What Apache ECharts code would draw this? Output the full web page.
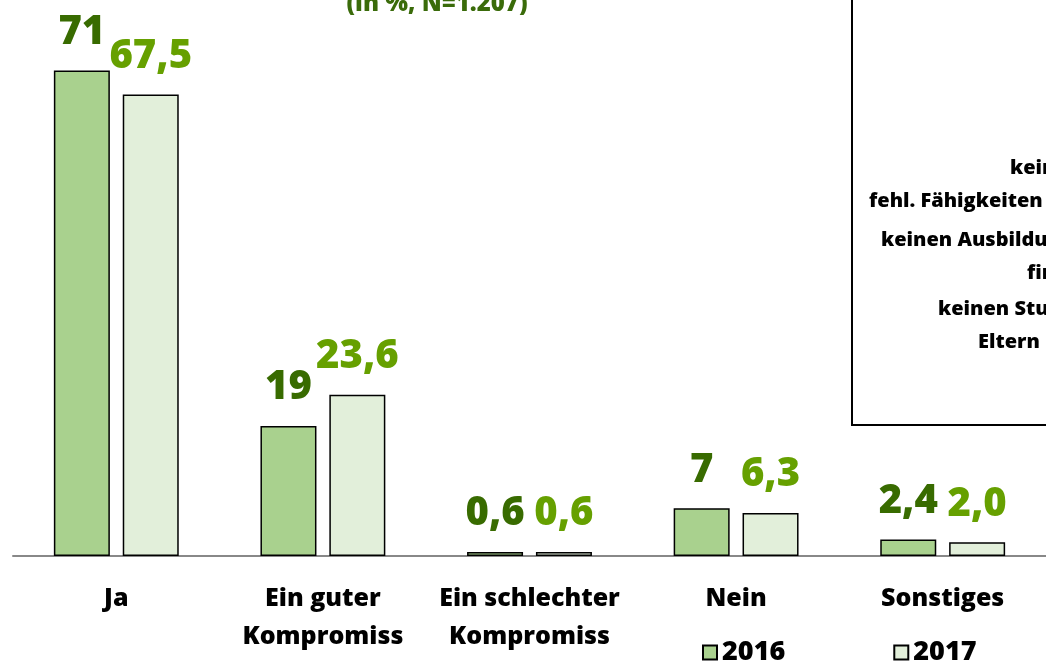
<!DOCTYPE html>
<html>
<head>
    <meta charset="utf-8">
    <title></title>
    <style type="text/css">
        html,
        body {
            height: 100%;
        }

        body {
            margin: 0;
            padding: 0;
            background: #fff;
        }

        #main {
            width: 1046px;
            height: 663px;
        }
    </style>
</head>

<body>
    <div id="main"></div>
    <script src="https://cdn.jsdelivr.net/npm/echarts@6/dist/echarts.min.js"></script>
    <script type="text/javascript">
        var categories = ['Ja', 'Ein guter\nKompromiss', 'Ein schlechter\nKompromiss', 'Nein', 'Sonstiges'];
        var values2016 = [71, 19, 0.6, 7, 2.4];
        var values2017 = [67.5, 23.6, 0.6, 6.3, 2.0];
        var seriesNames = ['2016', '2017'];
        var boxLines = ['keine', 'fehl. Fähigkeiten', 'keinen Ausbildungsplatz', 'finanzielle', 'keinen Studienplatz', 'Eltern'];

        var FONT = 'Open Sans';
        var W = 800;
        var myChart;
        window.onload = function() {
            myChart = echarts.init(document.getElementById('main'));

            // text box on the right, cut off by the picture edge
            var boxX = [1010, 869, 881, 1027, 938, 978];
            var boxY = [168, 201, 240, 273, 309, 342];
            var graphics = [{
                type: 'rect',
                shape: { x: 852, y: -10, width: 300, height: 435 },
                style: { fill: '#fff', stroke: '#000', lineWidth: 2 },
                z: 0
            }, {
                type: 'text',
                x: 437,
                y: 4,
                style: {
                    text: '(in %, N=1.207)',
                    font: W + ' 24px ' + FONT,
                    fill: '#3a6b0a',
                    align: 'center',
                    verticalAlign: 'middle'
                }
            }];
            boxLines.forEach(function (t, i) {
                graphics.push({
                    type: 'text',
                    x: boxX[i],
                    y: boxY[i],
                    style: {
                        text: t,
                        font: W + ' 20px ' + FONT,
                        fill: '#000',
                        align: 'left',
                        verticalAlign: 'middle'
                    }
                });
            });

            function fmt(v, fixed) {
                return (fixed ? v.toFixed(1) : String(v)).replace('.', ',');
            }

            myChart.setOption({
                animation: false,
                textStyle: { fontFamily: FONT },
                grid: {
                    left: 13,
                    right: -8,
                    top: 9,
                    bottom: 107,
                    containLabel: false
                },
                legend: {
                    data: seriesNames,
                    left: 697,
                    top: 634,
                    itemWidth: 14,
                    itemHeight: 14,
                    itemGap: 108,
                    icon: 'rect',
                    textStyle: {
                        fontSize: 27,
                        fontWeight: W,
                        color: '#000',
                        fontFamily: FONT
                    }
                },
                xAxis: {
                    type: 'category',
                    data: categories,
                    axisLine: { lineStyle: { color: '#888', width: 2 } },
                    axisTick: { show: false },
                    axisLabel: {
                        margin: 24,
                        fontSize: 25,
                        fontWeight: W,
                        lineHeight: 38,
                        color: '#000',
                        fontFamily: FONT,
                        interval: 0
                    }
                },
                yAxis: {
                    type: 'value',
                    min: 0,
                    max: 80,
                    show: false,
                    splitLine: { show: false }
                },
                series: [{
                    name: seriesNames[0],
                    type: 'bar',
                    data: values2016,
                    barWidth: 56,
                    barGap: '23%',
                    itemStyle: { color: '#a9d18e', borderColor: '#000', borderWidth: 1.5 },
                    label: {
                        show: true,
                        position: 'top',
                        distance: 18,
                        fontSize: 40,
                        fontWeight: W,
                        color: '#386b00',
                        fontFamily: FONT,
                        formatter: function (p) { return fmt(p.value, false); }
                    }
                }, {
                    name: seriesNames[1],
                    type: 'bar',
                    data: values2017,
                    barWidth: 56,
                    itemStyle: { color: '#e2efda', borderColor: '#000', borderWidth: 1.5 },
                    label: {
                        show: true,
                        position: 'top',
                        distance: 18,
                        fontSize: 40,
                        fontWeight: W,
                        color: '#66a000',
                        fontFamily: FONT,
                        formatter: function (p) { return fmt(p.value, true); }
                    }
                }],
                graphic: graphics
            });
        };
    </script>
</body>
</html>
